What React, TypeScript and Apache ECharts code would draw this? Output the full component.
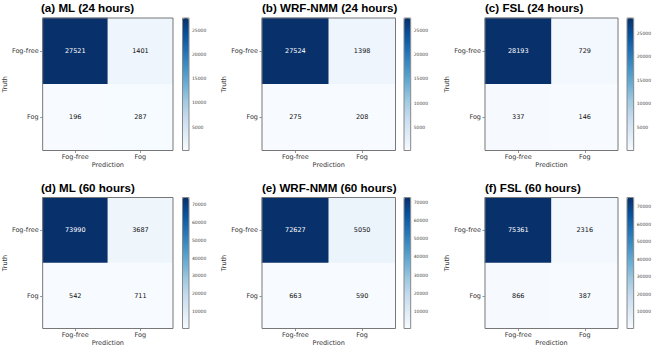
import React, { useEffect, useRef } from "react";
import * as echarts from "echarts";

const categories = ["Fog-free", "Fog"];
const panelTitles = [
  "(a) ML (24 hours)",
  "(b) WRF-NMM (24 hours)",
  "(c) FSL (24 hours)",
  "(d) ML (60 hours)",
  "(e) WRF-NMM (60 hours)",
  "(f) FSL (60 hours)",
];
// rows = Truth (Fog-free, Fog); columns = Prediction (Fog-free, Fog)
const ml24 = [[27521, 1401], [196, 287]];
const wrf24 = [[27524, 1398], [275, 208]];
const fsl24 = [[28193, 729], [337, 146]];
const ml60 = [[73990, 3687], [542, 711]];
const wrf60 = [[72627, 5050], [663, 590]];
const fsl60 = [[75361, 2316], [866, 387]];
const ticks24 = [5000, 10000, 15000, 20000, 25000];
const ticks60 = [10000, 20000, 30000, 40000, 50000, 60000, 70000];

const matrices = [ml24, wrf24, fsl24, ml60, wrf60, fsl60];
const tickSets = [ticks24, ticks24, ticks24, ticks60, ticks60, ticks60];

const blues = ["#f7fbff", "#deebf7", "#c6dbef", "#9ecae1", "#6baed6", "#4292c6", "#2171b5", "#08519c", "#08306b"];

// layout (pixels)
const cols = [
  { left: 41, width: 132, cbLeft: 182.5, cbWidth: 6.5 },
  { left: 262, width: 133.5, cbLeft: 404, cbWidth: 6.7 },
  { left: 485, width: 133, cbLeft: 627, cbWidth: 6.7 },
];
const rows = [
  { top: 18, height: 132.5, titleTop: 1.5 },
  { top: 197.5, height: 131, titleTop: 181.5 },
];

const FONT = "DejaVu Sans";

export default function App() {
  const ref = useRef<HTMLDivElement>(null);
  useEffect(() => {
    if (!ref.current) return;
    const chart = echarts.init(ref.current, undefined, { renderer: "svg" });
    const grids: any[] = [];
    const xAxes: any[] = [];
    const yAxes: any[] = [];
    const series: any[] = [];
    const visualMaps: any[] = [];
    const titles: any[] = [];

    matrices.forEach((m, i) => {
      const c = cols[i % 3];
      const r = rows[Math.floor(i / 3)];
      const flat = m.flat();
      const vmin = Math.min(...flat);
      const vmax = Math.max(...flat);
      titles.push({
        text: panelTitles[i],
        left: c.left,
        top: r.titleTop,
        padding: 0,
        textStyle: { fontFamily: "Liberation Sans", fontWeight: "bold", fontSize: 11.6, color: "#000" },
      });
      grids.push({
        left: c.left,
        top: r.top,
        width: c.width,
        height: r.height,
        show: true,
        borderColor: "#777",
        borderWidth: 1,
        backgroundColor: "transparent",
        z: 3,
      });
      xAxes.push({
        type: "category",
        gridIndex: i,
        data: categories,
        position: "bottom",
        axisLine: { show: false },
        axisTick: { show: true, alignWithLabel: true, length: 2.5, lineStyle: { color: "#777", width: 0.8 } },
        axisLabel: { fontSize: 6.5, fontFamily: FONT, color: "#333", margin: 3 },
        splitLine: { show: false },
        name: "Prediction",
        nameLocation: "middle",
        nameGap: 11,
        nameTextStyle: { fontSize: 6.5, fontFamily: FONT, color: "#333" },
      });
      yAxes.push({
        type: "category",
        gridIndex: i,
        data: categories,
        inverse: true,
        axisLine: { show: false },
        axisTick: { show: true, alignWithLabel: true, length: 2.5, lineStyle: { color: "#777", width: 0.8 } },
        axisLabel: { fontSize: 6.5, fontFamily: FONT, color: "#333", margin: 4 },
        splitLine: { show: false },
        name: "Truth",
        nameLocation: "middle",
        nameGap: 33,
        nameTextStyle: { fontSize: 6.5, fontFamily: FONT, color: "#333" },
      });
      const data: any[] = [];
      m.forEach((row, yi) =>
        row.forEach((v, xi) => {
          data.push({
            value: [xi, yi, v],
            label: { color: v > vmax / 2 ? "#ffffff" : "#111111" },
          });
        })
      );
      series.push({
        type: "heatmap",
        xAxisIndex: i,
        yAxisIndex: i,
        data,
        label: { show: true, fontSize: 6.5, fontFamily: FONT },
        emphasis: { disabled: true },
        itemStyle: { borderWidth: 0 },
      });
      visualMaps.push({
        type: "continuous",
        seriesIndex: i,
        dimension: 2,
        min: vmin,
        max: vmax,
        inRange: { color: blues },
        orient: "vertical",
        left: c.cbLeft,
        top: r.top,
        itemWidth: c.cbWidth,
        itemHeight: r.height,
        calculable: false,
        hoverLink: false,
        realtime: false,
        text: null,
        padding: 0,
        borderColor: "#888",
        borderWidth: 0,
        z: 4,
      });
    });

    // colorbar axes
    matrices.forEach((m, i) => {
      const c = cols[i % 3];
      const r = rows[Math.floor(i / 3)];
      const flat = m.flat();
      const vmin = Math.min(...flat);
      const vmax = Math.max(...flat);
      const gi = 6 + i;
      grids.push({
        left: c.cbLeft,
        top: r.top,
        width: c.cbWidth,
        height: r.height,
        show: true,
        borderColor: "#888",
        borderWidth: 1,
        backgroundColor: "transparent",
        z: 10,
      });
      xAxes.push({ type: "value", gridIndex: gi, show: false, min: 0, max: 1 });
      yAxes.push({
        type: "value",
        gridIndex: gi,
        position: "right",
        min: vmin,
        max: vmax,
        axisLine: { show: false },
        splitLine: { show: false },
        axisTick: {
          show: true,
          length: 1.5,
          customValues: tickSets[i],
          lineStyle: { color: "#666", width: 0.6 },
        },
        axisLabel: {
          show: true,
          customValues: tickSets[i],
          fontSize: 4.5,
          fontFamily: FONT,
          color: "#444",
          margin: 3,
          formatter: (v: number) => String(v),
        },
      });
    });

    chart.setOption({
      animation: false,
      backgroundColor: "#ffffff",
      title: titles,
      grid: grids,
      xAxis: xAxes,
      yAxis: yAxes,
      visualMap: visualMaps,
      series,
    });
    return () => chart.dispose();
  }, []);
  return (
    <div
      ref={ref}
      style={{ position: "absolute", left: 0, top: 0, width: 654, height: 349 }}
    />
  );
}
